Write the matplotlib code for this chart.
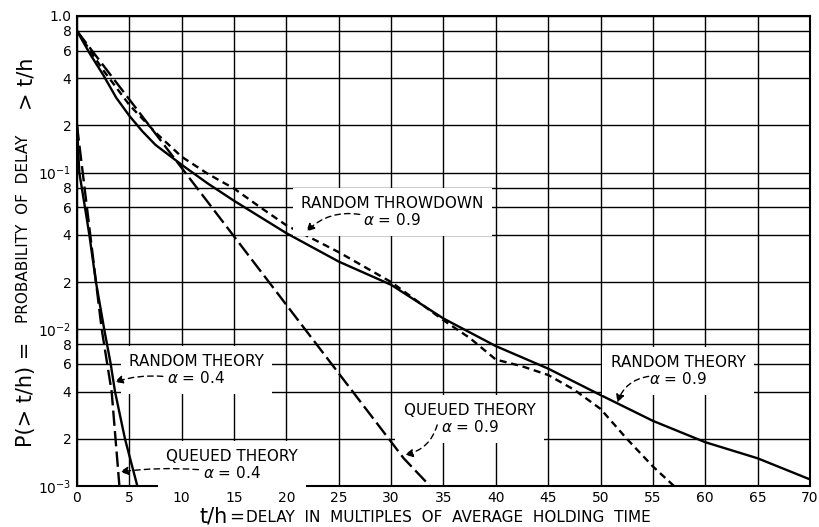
import matplotlib
matplotlib.use("Agg")
import matplotlib.pyplot as plt
from matplotlib.ticker import FixedLocator, NullLocator

plt.rcParams['font.family'] = ['DejaVu Sans']
plt.rcParams['mathtext.fontset'] = 'dejavusans'

# curve data
random09_x = [0, 1.25, 2.5, 3.75, 5, 6.25, 7.5, 10, 12.5, 15, 17.5, 20, 25, 30, 35, 40,
              45, 50, 55, 60, 65, 70]
random09_y = [0.8, 0.57, 0.42, 0.30, 0.23, 0.183, 0.150, 0.112, 0.085, 0.066, 0.052, 0.041,
              0.027, 0.0192, 0.0117, 0.0078, 0.0056, 0.0038, 0.0026, 0.0019, 0.0015, 0.0011]

throwdown_x = [0, 2.5, 5, 7.5, 10, 12.5, 15, 17.5, 20, 25, 30, 35, 37.5, 40, 42.5, 45,
               47.5, 50, 52.5, 55, 57]
throwdown_y = [0.8, 0.45, 0.27, 0.18, 0.126, 0.098, 0.079, 0.060, 0.046, 0.031, 0.020,
               0.0114, 0.0088, 0.0064, 0.0058, 0.0051, 0.0041, 0.0031, 0.0020, 0.00133, 0.001]

queued09_x = [0, 31.2, 33.7]
queued09_y = [0.8, 0.0015, 0.001]

random04_x = [0, 0.22, 0.76, 1.18, 1.81, 2.6, 3.22, 3.63, 4.58, 5.76]
random04_y = [0.2, 0.1, 0.06, 0.04, 0.02, 0.01, 0.006, 0.004, 0.002, 0.001]

queued04_x = [0, 2.36, 3.31, 4.05]
queued04_y = [0.2, 0.01, 0.004, 0.001]

x_ticks = list(range(0, 75, 5))
y_ticks = [1e-3, 2e-3, 4e-3, 6e-3, 8e-3, 1e-2, 2e-2, 4e-2, 6e-2, 8e-2,
           1e-1, 2e-1, 4e-1, 6e-1, 8e-1, 1.0]
y_labels = ['10$^{-3}$', '2', '4', '6', '8', '10$^{-2}$', '2', '4', '6', '8',
            '10$^{-1}$', '2', '4', '6', '8', '1.0']

fig = plt.figure(figsize=(8.19, 5.27), dpi=100)
ax = fig.add_axes([0.094, 0.078, 0.895, 0.892])
ax.set_yscale('log')
ax.set_xlim(0, 70)
ax.set_ylim(1e-3, 1.0)

ax.xaxis.set_major_locator(FixedLocator(x_ticks))
ax.yaxis.set_major_locator(FixedLocator(y_ticks))
ax.yaxis.set_minor_locator(NullLocator())
ax.set_yticklabels(y_labels)
ax.tick_params(length=0, labelsize=10, pad=4)
ax.grid(True, color='black', lw=1.0)
for s in ax.spines.values():
    s.set_linewidth(1.5)

lw = 1.7
ax.plot(random09_x, random09_y, color='black', lw=lw)
ax.plot(throwdown_x, throwdown_y, color='black', lw=lw, dashes=(3, 2))
ax.plot(queued09_x, queued09_y, color='black', lw=lw, dashes=(6.5, 2.2))
ax.plot(random04_x, random04_y, color='black', lw=lw)
ax.plot(queued04_x, queued04_y, color='black', lw=lw, dashes=(6.5, 2.2))

box = dict(facecolor='white', edgecolor='none', pad=6)
arrow = dict(arrowstyle='-|>', color='black', lw=1.0, linestyle=(0, (4, 3)),
             mutation_scale=12, shrinkA=0, shrinkB=0)

def label(x, y, name, alpha, tip, start, rad):
    ax.text(x, y, name + '\n$\\alpha$ = ' + alpha, ha='center', va='center',
            fontsize=11, linespacing=1.05, bbox=box, zorder=3)
    a = dict(arrow)
    a['connectionstyle'] = 'arc3,rad=%s' % rad
    ax.annotate('', xy=tip, xytext=start, arrowprops=a, zorder=4)

label(30.1, 0.0561, 'RANDOM THROWDOWN', '0.9', (21.9, 0.042), (27.0, 0.054), 0.25)
label(11.4, 0.0055, 'RANDOM THEORY', '0.4', (3.6, 0.0046), (8.2, 0.0050), 0.1)
label(14.8, 0.00136, 'QUEUED THEORY', '0.4', (4.1, 0.00123), (11.6, 0.00127), 0.05)
label(37.5, 0.00268, 'QUEUED THEORY', '0.9', (31.3, 0.00158), (34.4, 0.00245), -0.3)
label(57.4, 0.00543, 'RANDOM THEORY', '0.9', (51.6, 0.0034), (54.6, 0.0050), 0.3)

# axis titles: big symbols with smaller caps words
fig.text(200 / 819, 1 - 522 / 527, 't/h', fontsize=15, ha='left', va='baseline')
fig.text(229 / 819, 1 - 522 / 527, '=', fontsize=13, ha='left', va='baseline')
fig.text(246 / 819, 1 - 522 / 527, 'DELAY  IN  MULTIPLES  OF  AVERAGE  HOLDING  TIME',
         fontsize=11, ha='left', va='baseline')

fig.text(26 / 819, 1 - 447 / 527, 'P(> t/h) =', fontsize=15, rotation=90,
         ha='center', va='bottom')
fig.text(24 / 819, 1 - 323 / 527, 'PROBABILITY  OF  DELAY', fontsize=11, rotation=90,
         ha='center', va='bottom')
fig.text(26 / 819, 1 - 110 / 527, '> t/h', fontsize=15, rotation=90,
         ha='center', va='bottom')

fig.savefig('out.png', dpi=100)
